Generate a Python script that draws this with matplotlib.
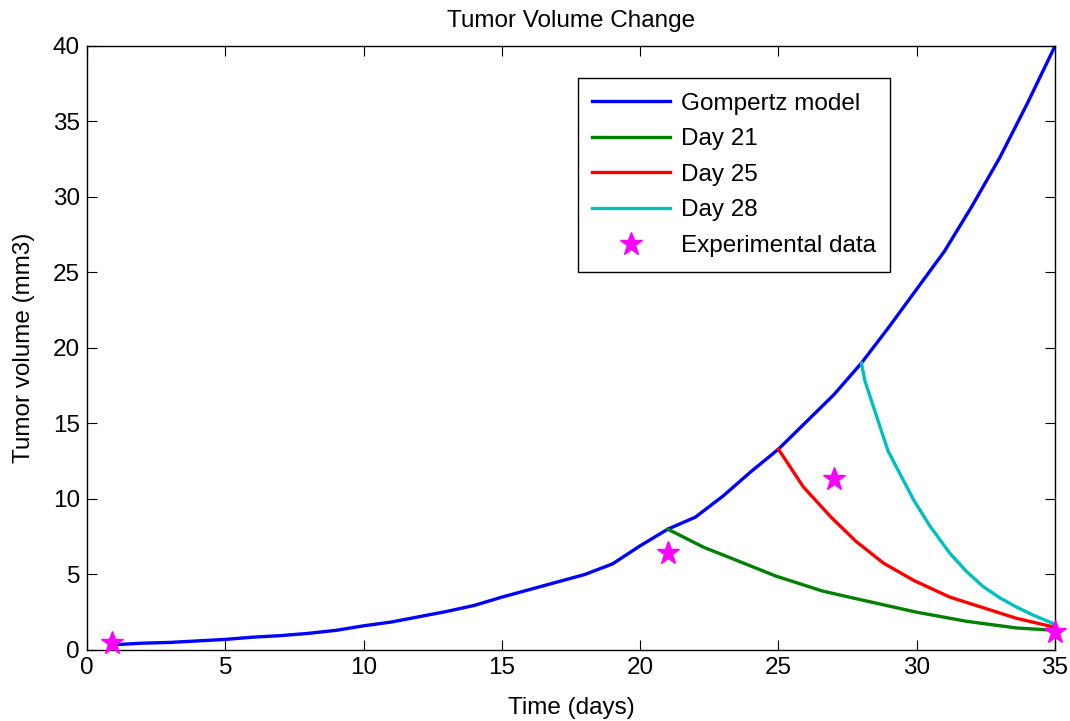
import matplotlib
matplotlib.use("Agg")
import matplotlib.pyplot as plt

plt.rcParams['font.family'] = ['Liberation Sans', 'DejaVu Sans']

# Gompertz model
days = [1, 2, 3, 4, 5, 6, 7, 8, 9, 10, 11, 12, 13, 14, 15, 16, 17, 18, 19, 20,
        21, 22, 23, 24, 25, 26, 27, 28, 29, 30, 31, 32, 33, 34, 35]
gompertz = [0.35, 0.45, 0.5, 0.6, 0.7, 0.85, 0.95, 1.1, 1.3, 1.6, 1.85, 2.2, 2.55, 2.95,
            3.5, 4.0, 4.5, 5.0, 5.7, 6.9, 8.0, 8.8, 10.2, 11.8, 13.3, 15.1, 16.9, 19.0,
            21.4, 23.9, 26.4, 29.4, 32.6, 36.2, 40.0]

# treatment curves
day21_t = [21, 22.3, 23.4, 24.9, 26.6, 27.8, 30.0, 31.8, 33.6, 35]
day21_v = [8.0, 6.8, 6.0, 4.9, 3.9, 3.4, 2.5, 1.9, 1.46, 1.3]

day25_t = [25, 25.9, 26.9, 27.8, 28.8, 29.9, 31.2, 32.4, 33.6, 35]
day25_v = [13.3, 10.8, 8.8, 7.2, 5.75, 4.6, 3.5, 2.8, 2.1, 1.5]

day28_t = [28, 28.13, 28.4, 28.96, 29.27, 29.9, 30.48, 31.2, 31.8, 32.4, 33.0, 33.6, 34.2, 35]
day28_v = [19.0, 17.8, 16.3, 13.2, 12.1, 9.9, 8.2, 6.4, 5.2, 4.2, 3.46, 2.85, 2.32, 1.7]

# experimental data
exp_t = [0.9, 21, 27, 35]
exp_v = [0.45, 6.4, 11.3, 1.2]

fs = 17.5

fig = plt.figure(figsize=(10.7, 7.21), dpi=100)
ax = fig.add_axes([0.0813, 0.0985, 0.9047, 0.8377])

ax.plot(days, gompertz, color='blue', lw=2.4, label='Gompertz model')
ax.plot(day21_t, day21_v, color='#008000', lw=2.4, label='Day 21')
ax.plot(day25_t, day25_v, color='red', lw=2.4, label='Day 25')
ax.plot(day28_t, day28_v, color='#00bfbf', lw=2.4, label='Day 28')
ax.plot(exp_t, exp_v, ls='none', marker='*', color='magenta', ms=17,
        label='Experimental data', clip_on=False, zorder=5)

ax.set_xlim(0, 35)
ax.set_ylim(0, 40)
ax.set_xticks(range(0, 36, 5))
ax.set_yticks(range(0, 41, 5))
ax.tick_params(direction='in', top=True, right=True, length=7, labelsize=fs, pad=5)
for s in ax.spines.values():
    s.set_linewidth(1)

ax.set_xlabel('Time (days)', fontsize=fs, labelpad=13)
ax.set_ylabel('Tumor volume (mm3)', fontsize=fs, labelpad=13)
ax.set_title('Tumor Volume Change', fontsize=fs, pad=14)

leg = ax.legend(loc='upper right', bbox_to_anchor=(0.83, 0.947), fontsize=fs,
                fancybox=False, edgecolor='black', framealpha=1, handlelength=3.2,
                handletextpad=0.45, borderpad=0.6, borderaxespad=0, labelspacing=0.56)
leg.get_frame().set_linewidth(1)

fig.savefig('out.png', dpi=100)
